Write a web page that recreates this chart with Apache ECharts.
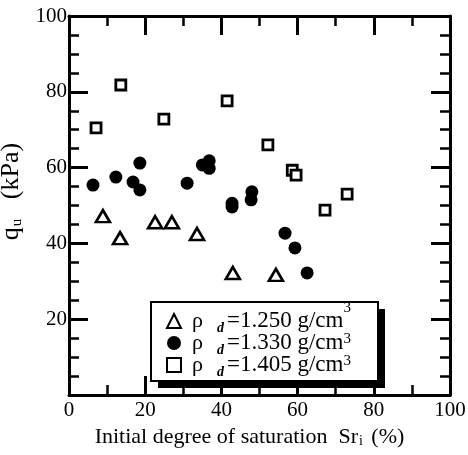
<!DOCTYPE html>
<html>
<head>
<meta charset="utf-8">
<script src="https://cdn.jsdelivr.net/npm/echarts@6/dist/echarts.min.js"></script>
<style>
  html, body { margin: 0; padding: 0; background: #fff; }
  #chart { width: 468px; height: 455px; }
</style>
</head>
<body>
<div id="chart"></div>
<script>
// Unconfined compressive strength vs. initial degree of saturation,
// for three dry densities.
const densities = ['1.250', '1.330', '1.405'];

const sr1250 = [8.9, 13.4, 22.6, 27.0, 33.6, 43.0, 54.3];
const qu1250 = [47.2, 41.4, 45.6, 45.6, 42.5, 32.2, 31.7];

const sr1330 = [6.3, 12.3, 16.8, 18.6, 18.6, 31.0, 35.0, 36.8, 36.8, 42.8, 42.8, 47.8, 48.0, 56.7, 59.3, 62.5];
const qu1330 = [55.4, 57.5, 56.2, 54.1, 61.2, 55.9, 60.7, 61.8, 59.8, 50.6, 49.6, 51.5, 53.6, 42.7, 38.8, 32.2];

const sr1405 = [7.1, 13.6, 24.9, 41.5, 52.2, 58.6, 59.6, 67.2, 73.0];
const qu1405 = [70.5, 81.8, 72.8, 77.6, 66.0, 59.3, 58.0, 48.8, 53.0];

const xTicks = [0, 20, 40, 60, 80, 100];
const yTicks = [20, 40, 60, 80, 100];

const FONT = '"Liberation Serif", "DejaVu Serif", serif';
const seriesNames = densities.map(d => 'ρd=' + d + ' g/cm3');

function pairs(xs, ys) {
  return xs.map((x, i) => [x, ys[i]]);
}

function axisCommon(showLabel, minorSplit) {
  return {
    min: 0,
    max: 100,
    interval: 20,
    axisLine: { show: true, onZero: false, lineStyle: { color: '#000', width: 3 } },
    axisTick: { show: true, inside: true, length: 19, lineStyle: { color: '#000', width: 3 } },
    minorTick: { show: true, splitNumber: minorSplit, length: 10, lineStyle: { color: '#000', width: 2.5 } },
    splitLine: { show: false },
    minorSplitLine: { show: false },
    axisLabel: { show: showLabel, color: '#000', fontFamily: FONT, fontSize: 21 }
  };
}

const chart = echarts.init(document.getElementById('chart'), null, { renderer: 'canvas' });

// Legend rows: tall line box so the superscript can sit above the digits
const LEGEND_LINE = 40;

const option = {
  backgroundColor: '#fff',
  animation: false,
  grid: { left: 69, right: 18, top: 16, bottom: 60, containLabel: false, outerBoundsMode: 'none' },
  xAxis: [
    Object.assign(axisCommon(true, 2), {
      type: 'value',
      position: 'bottom',
      name: 'Initial degree of saturation  Sr{sub|i} (%)',
      nameLocation: 'middle',
      nameGap: 28,
      nameTextStyle: {
        color: '#000', fontFamily: FONT, fontSize: 22, padding: [0, 20, 0, 0],
        rich: { sub: { fontFamily: FONT, fontSize: 14, verticalAlign: 'bottom', lineHeight: 14, padding: [0, 3, 0, 1] } }
      },
      axisLabel: {
        show: true, color: '#000', fontFamily: FONT, fontSize: 21, margin: 5,
        customValues: xTicks
      }
    }),
    Object.assign(axisCommon(false, 2), { type: 'value', position: 'top' })
  ],
  yAxis: [
    Object.assign(axisCommon(true, 4), {
      type: 'value',
      position: 'left',
      name: 'q{sub|u}   (kPa)',
      nameLocation: 'middle',
      nameGap: 40,
      nameRotate: 90,
      nameTextStyle: {
        color: '#000', fontFamily: FONT, fontSize: 26, padding: [0, 0, 0, 28],
        rich: { sub: { fontFamily: FONT, fontSize: 15, verticalAlign: 'bottom', lineHeight: 15, padding: [0, 0, 0, 1] } }
      },
      axisLabel: {
        show: true, color: '#000', fontFamily: FONT, fontSize: 21, margin: 2,
        customValues: yTicks
      }
    }),
    Object.assign(axisCommon(false, 4), { type: 'value', position: 'right' })
  ],
  legend: {
    orient: 'vertical',
    left: 161,
    top: 296,
    itemWidth: 14,
    itemHeight: 14,
    itemGap: -18,
    selectedMode: false,
    data: seriesNames,
    formatter: function (name) {
      const i = seriesNames.indexOf(name);
      const sup = i === 0 ? 'sa' : 'sb';
      return '{r|ρ}{d|d}{v|=' + densities[i] + ' g/cm}{' + sup + '|3}';
    },
    textStyle: {
      color: '#000',
      fontFamily: FONT,
      fontSize: 23,
      lineHeight: LEGEND_LINE,
      rich: {
        r: { fontFamily: FONT, fontSize: 22, lineHeight: LEGEND_LINE, padding: [0, 14, 0, 6] },
        d: { fontFamily: FONT, fontSize: 14, fontStyle: 'italic', fontWeight: 'bold', lineHeight: LEGEND_LINE, verticalAlign: 'middle', padding: [14, 3, 0, 0] },
        v: { fontFamily: FONT, fontSize: 23, lineHeight: LEGEND_LINE },
        sa: { fontFamily: FONT, fontSize: 15, lineHeight: LEGEND_LINE, verticalAlign: 'top' },
        sb: { fontFamily: FONT, fontSize: 15, lineHeight: LEGEND_LINE, verticalAlign: 'middle', padding: [0, 0, 8, 0] }
      }
    }
  },
  graphic: [
    { type: 'rect', z: 1, silent: true, shape: { x: 158, y: 309, width: 227, height: 79 }, style: { fill: '#000' } },
    { type: 'rect', z: 1, silent: true, shape: { x: 151, y: 302, width: 227, height: 79 }, style: { fill: '#fff', stroke: '#000', lineWidth: 2 } }
  ],
  series: [
    {
      name: seriesNames[0],
      type: 'scatter',
      symbol: 'triangle',
      symbolSize: [14, 12],
      itemStyle: { color: '#fff', borderColor: '#000', borderWidth: 2.6, opacity: 1 },
      data: pairs(sr1250, qu1250)
    },
    {
      name: seriesNames[1],
      type: 'scatter',
      symbol: 'circle',
      symbolSize: 13,
      itemStyle: { color: '#000', borderColor: '#000', borderWidth: 0, opacity: 1 },
      data: pairs(sr1330, qu1330)
    },
    {
      name: seriesNames[2],
      type: 'scatter',
      symbol: 'rect',
      symbolSize: 10,
      itemStyle: { color: '#fff', borderColor: '#000', borderWidth: 2.8, opacity: 1 },
      data: pairs(sr1405, qu1405)
    }
  ]
};

chart.setOption(option);
</script>
</body>
</html>
